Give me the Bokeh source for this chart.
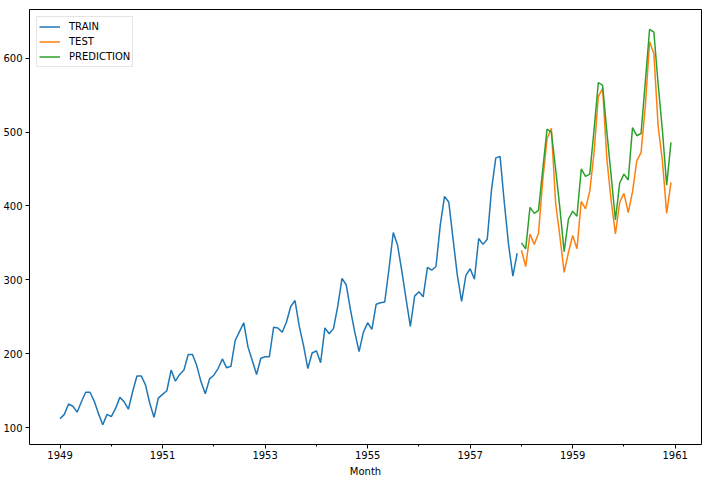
import pandas as pd
from bokeh.plotting import figure
from bokeh.models import FixedTicker, Range1d, Legend, LegendItem, CustomJSTickFormatter
from bokeh.embed import file_html
from bokeh.resources import INLINE

# ---- data ----
train_start = "1949-01"
test_start = "1958-01"

train_values = [
    112, 118, 132, 129, 121, 135, 148, 148, 136, 119, 104, 118,
    115, 126, 141, 135, 125, 149, 170, 170, 158, 133, 114, 140,
    145, 150, 178, 163, 172, 178, 199, 199, 184, 162, 146, 166,
    171, 180, 193, 181, 183, 218, 230, 242, 209, 191, 172, 194,
    196, 196, 236, 235, 229, 243, 264, 272, 237, 211, 180, 201,
    204, 188, 235, 227, 234, 264, 302, 293, 259, 229, 203, 229,
    242, 233, 267, 269, 270, 315, 364, 347, 312, 274, 237, 278,
    284, 277, 317, 313, 318, 374, 413, 405, 355, 306, 271, 306,
    315, 301, 356, 348, 355, 422, 465, 467, 404, 347, 305, 336,
]
test_values = [
    340, 318, 362, 348, 363, 435, 491, 505, 404, 359, 310, 337,
    360, 342, 406, 396, 420, 472, 548, 559, 463, 407, 362, 405,
    417, 391, 419, 461, 472, 535, 622, 606, 508, 461, 390, 432,
]
prediction_values = [
    350, 342, 398, 390, 394, 450, 504, 500, 450, 397, 338, 382,
    393, 386, 450, 440, 443, 503, 567, 563, 500, 441, 381, 431,
    443, 435, 506, 495, 498, 568, 639, 635, 565, 502, 428, 486,
]
x_major_ticks = [1949, 1951, 1953, 1955, 1957, 1959, 1961]
x_minor_ticks = [1950, 1952, 1954, 1956, 1958, 1960]
y_ticks = [100, 200, 300, 400, 500, 600]


def month_axis(start, n):
    idx = pd.date_range(start, periods=n, freq="MS")
    return [d.year + (d.month - 1) / 12.0 for d in idx]


train_x = month_axis(train_start, len(train_values))
test_x = month_axis(test_start, len(test_values))
pred_x = month_axis(test_start, len(prediction_values))

xs_all = train_x + test_x
ys_all = train_values + test_values + prediction_values
xpad = (max(xs_all) - min(xs_all)) * 0.05
ypad = (max(ys_all) - min(ys_all)) * 0.05

p = figure(
    frame_width=672, frame_height=435,
    output_backend="svg", toolbar_location=None,
    x_range=Range1d(min(xs_all) - xpad, max(xs_all) + xpad),
    y_range=Range1d(min(ys_all) - ypad, max(ys_all) + ypad),
    min_border_left=0, min_border_right=4, min_border_top=9, min_border_bottom=0,
    background_fill_color="white", border_fill_color="white",
)
p.outline_line_color = "black"
p.outline_line_width = 1
p.xgrid.visible = False
p.ygrid.visible = False

FONT = "DejaVu Sans"
for ax in (p.xaxis[0], p.yaxis[0]):
    ax.axis_line_color = None
    ax.major_tick_in = 0
    ax.major_tick_out = 4
    ax.minor_tick_in = 0
    ax.minor_tick_out = 2
    ax.major_tick_line_color = "black"
    ax.minor_tick_line_color = "black"
    ax.major_label_text_font = FONT
    ax.major_label_text_font_size = "10px"
    ax.major_label_text_color = "black"
    ax.axis_label_text_font = FONT
    ax.axis_label_text_font_size = "10px"
    ax.axis_label_text_font_style = "normal"
    ax.axis_label_text_color = "black"

p.xaxis.major_label_standoff = 2
p.yaxis.major_label_standoff = 3
p.xaxis.ticker = FixedTicker(ticks=x_major_ticks, minor_ticks=x_minor_ticks)
p.xaxis.formatter = CustomJSTickFormatter(code="return Math.round(tick).toString();")
p.xaxis.axis_label = "Month"
p.xaxis.axis_label_standoff = 4
p.yaxis.ticker = FixedTicker(ticks=y_ticks, minor_ticks=[])

r1 = p.line(train_x, train_values, line_color="#1f77b4", line_width=1.5)
r2 = p.line(test_x, test_values, line_color="#ff7f0e", line_width=1.5)
r3 = p.line(pred_x, prediction_values, line_color="#2ca02c", line_width=1.5)

legend = Legend(items=[
    LegendItem(label="TRAIN", renderers=[r1]),
    LegendItem(label="TEST", renderers=[r2]),
    LegendItem(label="PREDICTION", renderers=[r3]),
], location="top_left")
legend.margin = 7
legend.padding = 2
legend.spacing = 0
legend.glyph_width = 21
legend.glyph_height = 15
legend.label_height = 15
legend.label_standoff = 9
legend.label_text_font = FONT
legend.label_text_font_size = "10px"
legend.label_text_color = "black"
legend.border_line_color = "#cccccc"
legend.background_fill_alpha = 0.8
p.add_layout(legend)

open("out.html", "w").write(file_html(p, INLINE))
